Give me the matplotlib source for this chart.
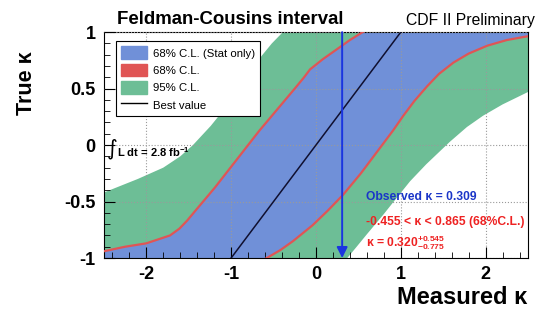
import matplotlib
matplotlib.use("Agg")
import matplotlib.pyplot as plt
from matplotlib.patches import Patch
from matplotlib.lines import Line2D
from matplotlib.ticker import MultipleLocator

plt.rcParams['font.family'] = ['Liberation Sans', 'DejaVu Sans']
plt.rcParams['mathtext.fontset'] = 'custom'
plt.rcParams['mathtext.rm'] = 'Liberation Sans'
plt.rcParams['mathtext.bf'] = 'Liberation Sans:bold'

# band edges: (true kappa, measured kappa)
green_left_k = [-1.05, -0.42, -0.36, -0.30, -0.20, -0.10, 0.00, 0.17, 0.30, 0.46,
                0.62, 0.79, 0.90, 1.00, 1.05]
green_left_x = [-4.00, -2.50, -2.30, -2.10, -1.80, -1.60, -1.45, -1.24, -1.10, -0.95,
                -0.80, -0.64, -0.52, -0.39, -0.33]
green_right_k = [-1.05, -1.00, -0.90, -0.79, -0.62, -0.46, -0.32, -0.17, 0.03, 0.16,
                 0.26, 0.36, 0.47, 1.05]
green_right_x = [0.32, 0.37, 0.48, 0.60, 0.79, 0.96, 1.11, 1.30, 1.58, 1.78,
                 1.97, 2.20, 2.50, 4.00]

red_left_k = [-1.05, -0.94, -0.90, -0.87, -0.80, -0.74, -0.67, -0.58, -0.50, -0.375,
              -0.25, -0.125, 0.00, 0.125, 0.25, 0.375, 0.50, 0.60, 0.67, 0.76,
              0.85, 0.93, 1.00, 1.05]
red_left_x = [-3.40, -2.50, -2.25, -2.00, -1.72, -1.61, -1.52, -1.42, -1.33, -1.19,
              -1.06, -0.93, -0.80, -0.67, -0.53, -0.39, -0.25, -0.14, -0.07, 0.08,
              0.25, 0.40, 0.55, 0.67]
red_right_k = [-1.05, -1.00, -0.93, -0.85, -0.71, -0.58, -0.44, -0.25, -0.12, 0.01,
               0.13, 0.26, 0.39, 0.52, 0.63, 0.73, 0.81, 0.88, 0.93, 0.96, 1.05]
red_right_x = [-0.70, -0.58, -0.42, -0.27, -0.04, 0.14, 0.32, 0.53, 0.66, 0.79,
               0.91, 1.03, 1.16, 1.31, 1.45, 1.62, 1.80, 2.02, 2.25, 2.47, 3.40]

best_x = [-1.0, 1.0]
best_k = [-1.0, 1.0]
observed = 0.309

c_blue = "#7090d8"
c_red = "#e05555"
c_green = "#6dbe96"

fig = plt.figure(figsize=(5.41, 3.12), dpi=100)
ax = fig.add_axes([0.192, 0.173, 0.784, 0.724])

# 95% band
ax.fill(green_left_x + green_right_x[::-1], green_left_k + green_right_k[::-1],
        color=c_green, lw=0, zorder=1)
# 68% band: stat only fill, full 68% as red edges
ax.fill(red_left_x + red_right_x[::-1], red_left_k + red_right_k[::-1],
        color=c_blue, lw=0, zorder=2)
ax.plot(red_left_x, red_left_k, color=c_red, lw=1.6, zorder=3, solid_joinstyle="round")
ax.plot(red_right_x, red_right_k, color=c_red, lw=1.6, zorder=3, solid_joinstyle="round")

ax.plot(best_x, best_k, color="#101030", lw=1.1, zorder=4)

ax.annotate("", xy=(observed, -1.0), xytext=(observed, 1.0),
            arrowprops=dict(arrowstyle="-|>", color="#1a35e0", lw=1.4,
                            mutation_scale=16, shrinkA=0, shrinkB=0),
            zorder=5)

ax.set_xlim(-2.5, 2.5)
ax.set_ylim(-1, 1)
ax.xaxis.set_minor_locator(MultipleLocator(0.2))
ax.yaxis.set_minor_locator(MultipleLocator(0.1))
ax.tick_params(which="both", direction="in", top=False, right=False)
ax.tick_params(which="major", length=8, labelsize=13, pad=6)
ax.tick_params(which="minor", length=4)
ax.set_xticks([-2, -1, 0, 1, 2])
ax.set_xticklabels(["-2", "-1", "0", "1", "2"], fontweight="bold")
ax.set_yticks([-1, -0.5, 0, 0.5, 1])
ax.set_yticklabels(["-1", "-0.5", "0", "0.5", "1"], fontweight="bold")
ax.grid(True, which="major", color="#9a9a9a", ls=":", lw=0.8)
ax.set_axisbelow(False)

handles = [Patch(facecolor=c_blue, edgecolor=c_blue),
           Patch(facecolor=c_red, edgecolor=c_red),
           Patch(facecolor=c_green, edgecolor=c_green),
           Line2D([], [], color="black", lw=1)]
labels = ["68% C.L. (Stat only)", "68% C.L.", "95% C.L.", "Best value"]
leg = ax.legend(handles, labels, loc="upper left", bbox_to_anchor=(0.015, 0.985),
                fontsize=8.2, frameon=True, fancybox=False, edgecolor="black",
                framealpha=1, borderpad=0.45, labelspacing=0.4, handlelength=2.3,
                handleheight=1.35, handletextpad=0.5)
leg.get_frame().set_linewidth(0.8)
leg.set_zorder(10)

# luminosity
ax.text(0.006, 0.485, "\u222b", transform=ax.transAxes, fontsize=15,
        family=["DejaVu Sans"], va="center", zorder=10)
ax.text(0.031, 0.47, "L dt = 2.8 fb" + r"$^{\mathbf{-1}}$", transform=ax.transAxes,
        fontsize=8, fontweight="bold", va="center", zorder=10)

ax.text(0.618, 0.27, "Observed \u03ba = 0.309", transform=ax.transAxes,
        fontsize=8.7, fontweight="bold", color="#1a35c8", va="center", zorder=10)
ax.text(0.618, 0.159, "-0.455 < \u03ba < 0.865 (68%C.L.)", transform=ax.transAxes,
        fontsize=8.7, fontweight="bold", color="#ee2222", va="center", zorder=10)
ax.text(0.618, 0.066, "\u03ba = 0.320" + r"$^{\mathbf{+0.545}}_{\mathbf{-0.775}}$",
        transform=ax.transAxes, fontsize=8.7, fontweight="bold", color="#ee2222",
        va="center", zorder=10)

fig.text(117 / 541, 1 - 20 / 312, "Feldman-Cousins interval", fontsize=13.4,
         fontweight="bold", va="center", ha="left")
fig.text(535 / 541, 1 - 20 / 312, "CDF II Preliminary", fontsize=11.3,
         va="center", ha="right")
fig.text(27 / 541, 1 - 83 / 312, "True \u03ba", fontsize=15.5, fontweight="bold",
         rotation=90, va="center", ha="center")
fig.text(527 / 541, 1 - 297 / 312, "Measured \u03ba", fontsize=17, fontweight="bold",
         va="center", ha="right")

fig.savefig("out.png", dpi=100)
